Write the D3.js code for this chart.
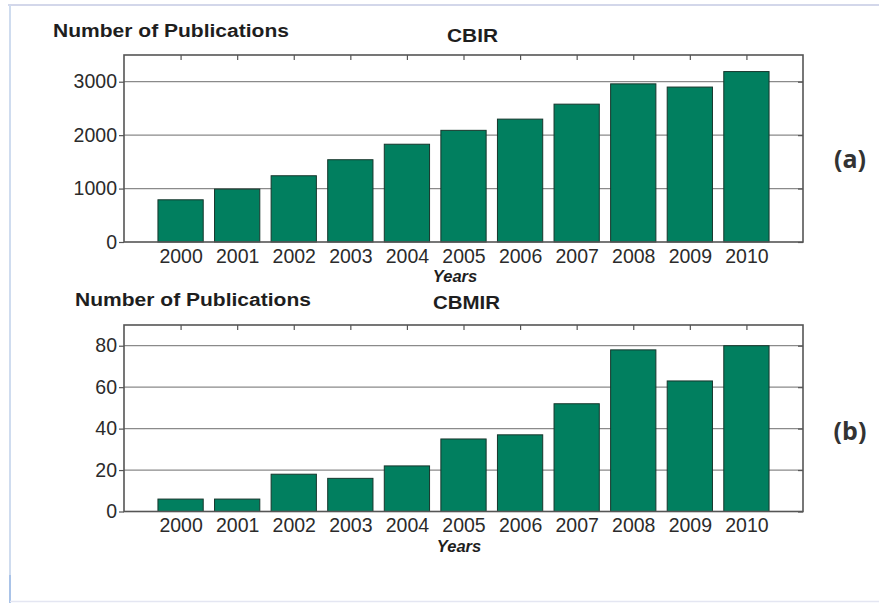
<!DOCTYPE html>
<html>
<head>
<meta charset="utf-8">
<script src="https://cdn.jsdelivr.net/npm/d3@7"></script>
<style>
  html, body { margin: 0; padding: 0; background: #ffffff; }
  svg { display: block; }
</style>
</head>
<body>
<svg id="chart" width="879" height="603"></svg>
<script>
// ---- Data ----
const years = [2000, 2001, 2002, 2003, 2004, 2005, 2006, 2007, 2008, 2009, 2010];
const cbirValues = [790, 990, 1240, 1540, 1830, 2090, 2300, 2580, 2960, 2900, 3190];
const cbmirValues = [6, 6, 18, 16, 22, 35, 37, 52, 78, 63, 80];
const cbirTicks = [0, 1000, 2000, 3000];
const cbmirTicks = [0, 20, 40, 60, 80];
const titleText = "Number of Publications";
const xLabel = "Years";

const svg = d3.select("#chart");

// outer frame (light blue border of the picture)
svg.append("line").attr("x1", 8).attr("x2", 879).attr("y1", 5).attr("y2", 5)
  .attr("stroke", "#d3d7ea").attr("stroke-width", 2);
svg.append("line").attr("x1", 10).attr("x2", 10).attr("y1", 5).attr("y2", 603)
  .attr("stroke", "#cfdcef").attr("stroke-width", 2);
svg.append("line").attr("x1", 10).attr("x2", 10).attr("y1", 575).attr("y2", 603)
  .attr("stroke", "#a9c3e8").attr("stroke-width", 2);
svg.append("line").attr("x1", 10).attr("x2", 879).attr("y1", 601.5).attr("y2", 601.5)
  .attr("stroke", "#e4e6f2").attr("stroke-width", 1.5);

const barColor = "#017f5f";
const textColor = "#2b2b2b";

function panel(opts) {
  const { values, ticks, yMax, left, right, top, bottom, title, titleX, titleY,
          name, nameX, nameY, nameW, yearsY, yearsX, tag, tagY } = opts;
  const g = svg.append("g");
  const x = d3.scaleLinear().domain([years[0] - 1, years[years.length - 1] + 1]).range([left, right]);
  const y = d3.scaleLinear().domain([0, yMax]).range([bottom, top]);
  const bw = (x(1) - x(0)) * 0.8;

  // grid lines
  g.append("g").selectAll("line").data(ticks.filter(t => t > 0)).join("line")
    .attr("x1", left).attr("x2", right)
    .attr("y1", d => y(d)).attr("y2", d => y(d))
    .attr("stroke", "#8a8a8a").attr("stroke-width", 1.2);

  // bars
  g.append("g").selectAll("rect").data(values).join("rect")
    .attr("x", (d, i) => x(years[i]) - bw / 2)
    .attr("width", bw)
    .attr("y", d => y(d))
    .attr("height", d => y(0) - y(d))
    .attr("fill", barColor)
    .attr("stroke", "#17362c").attr("stroke-width", 1);

  // left axis
  const yAxis = d3.axisLeft(y).tickValues(ticks).tickSize(5).tickPadding(2).tickFormat(d3.format("d"));
  const ya = g.append("g").attr("transform", `translate(${left},0)`).call(yAxis);
  ya.select(".domain").remove();
  ya.selectAll("line").attr("stroke", "#555").attr("stroke-width", 1.2);
  ya.selectAll("text").attr("font-family", "Liberation Sans, Arial, sans-serif")
    .attr("font-size", 19.5).attr("fill", textColor);

  // right side inner ticks
  const yr = d3.axisLeft(y).tickValues(ticks).tickSize(5).tickFormat("");
  const yra = g.append("g").attr("transform", `translate(${right},0)`).call(yr);
  yra.select(".domain").remove();
  yra.selectAll("line").attr("stroke", "#555").attr("stroke-width", 1.2);

  // top inner ticks
  const xt = d3.axisBottom(x).tickValues(years).tickSize(5).tickFormat("");
  const xta = g.append("g").attr("transform", `translate(0,${top})`).call(xt);
  xta.select(".domain").remove();
  xta.selectAll("line").attr("stroke", "#555").attr("stroke-width", 1.2);

  // bottom year labels
  const xb = d3.axisBottom(x).tickValues(years).tickSize(0).tickPadding(7).tickFormat(d3.format("d"));
  const xba = g.append("g").attr("transform", `translate(0,${bottom})`).call(xb);
  xba.select(".domain").remove();
  xba.selectAll("text").attr("font-family", "Liberation Sans, Arial, sans-serif")
    .attr("font-size", 19.5).attr("fill", textColor);

  // frame
  g.append("rect").attr("x", left).attr("y", top).attr("width", right - left).attr("height", bottom - top)
    .attr("fill", "none").attr("stroke", "#555").attr("stroke-width", 1.6);

  // texts
  g.append("text").attr("x", titleX).attr("y", titleY).text(title)
    .attr("font-family", "Liberation Sans, Arial, sans-serif").attr("font-weight", "bold")
    .attr("font-size", 18).attr("fill", "#1e1e1e")
    .attr("textLength", 236).attr("lengthAdjust", "spacingAndGlyphs");
  g.append("text").attr("x", nameX).attr("y", nameY).text(name)
    .attr("font-family", "Liberation Sans, Arial, sans-serif").attr("font-weight", "bold")
    .attr("font-size", 18).attr("fill", "#1e1e1e")
    .attr("textLength", nameW).attr("lengthAdjust", "spacingAndGlyphs");
  g.append("text").attr("x", yearsX).attr("y", yearsY).text(xLabel)
    .attr("font-family", "Liberation Sans, Arial, sans-serif").attr("font-weight", "bold")
    .attr("font-style", "italic").attr("font-size", 16.5).attr("fill", "#1e1e1e").attr("text-anchor", "middle");
  g.append("text").attr("x", 850).attr("y", tagY).text(tag)
    .attr("font-family", "Open Sans, Noto Sans, sans-serif").attr("font-weight", "bold")
    .attr("font-size", 25).attr("fill", "#333").attr("text-anchor", "middle");
}

panel({
  values: cbirValues, ticks: cbirTicks, yMax: 3500,
  left: 124, right: 803, top: 55, bottom: 242,
  title: titleText, titleX: 53, titleY: 37,
  name: "CBIR", nameX: 447, nameY: 42, nameW: 51,
  yearsX: 455, yearsY: 282, tag: "(a)", tagY: 168
});

panel({
  values: cbmirValues, ticks: cbmirTicks, yMax: 90,
  left: 124, right: 803, top: 325, bottom: 511.5,
  title: titleText, titleX: 75, titleY: 306,
  name: "CBMIR", nameX: 433, nameY: 309, nameW: 67,
  yearsX: 459, yearsY: 552, tag: "(b)", tagY: 440
});
</script>
</body>
</html>
